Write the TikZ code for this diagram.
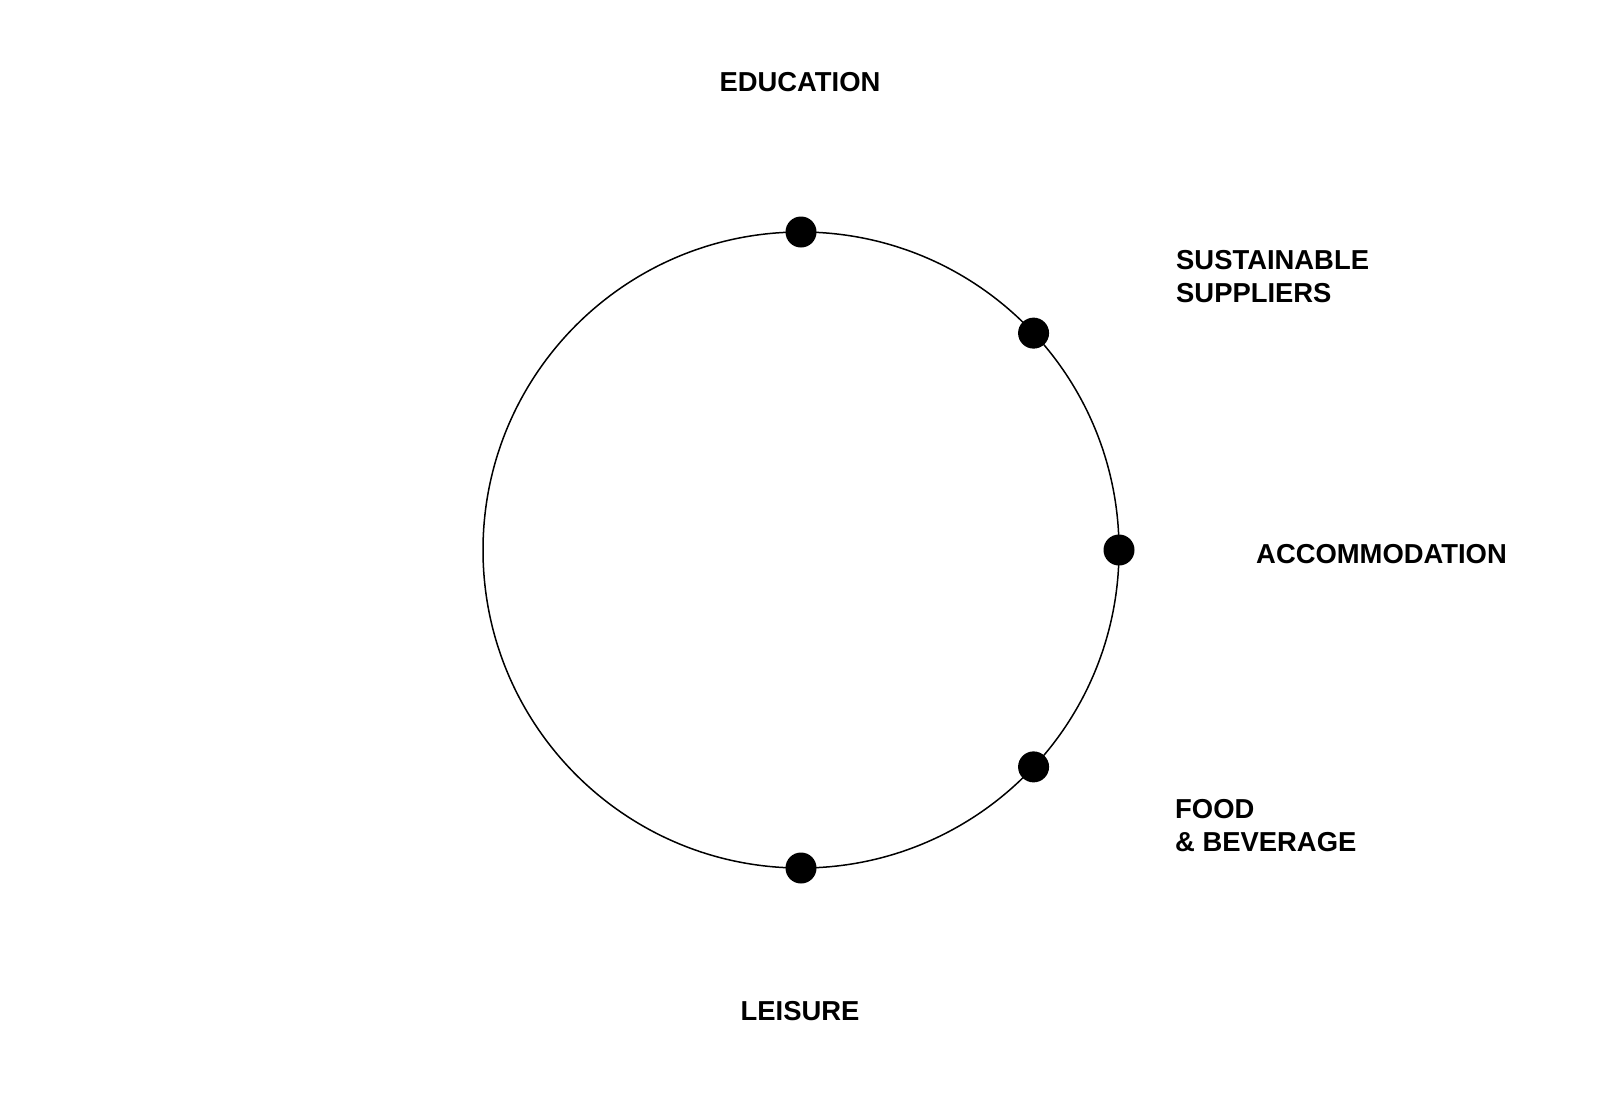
\documentclass[tikz,border=0pt]{standalone}
\usepackage{fontspec}
\setmainfont{Liberation Sans}
\usetikzlibrary{positioning}

\begin{document}
\begin{tikzpicture}[
  x=1pt,y=-1pt,
  font=\bfseries\fontsize{27.4}{33}\selectfont,
  ring/.style={draw,circle,line width=1.5pt,minimum size=636pt,inner sep=0pt,outer sep=0pt},
  spot/.style={circle,fill=black,minimum size=31pt,inner sep=0pt},
  label/.style={inner sep=0pt,align=left},
  every node/.style={align=center}]

  \useasboundingbox (0,0) rectangle (1600,1100);

  % The ring and the points on it
  \node[ring] (ring) at (801,550) {};
  \node[spot] (edu dot) at (ring.90) {};
  \node[spot] (supply dot) at (ring.43) {};
  \node[spot] (accom dot) at (ring.0) {};
  \node[spot] (food dot) at (ring.-43) {};
  \node[spot] (leisure dot) at (ring.-90) {};

  % The labels round the ring
  \node[label] (education) at (800,82) {EDUCATION};
  \node[label,anchor=west] (suppliers) at (1176,277) {SUSTAINABLE\\SUPPLIERS};
  \node[label,anchor=west] (accommodation) at (1256,554) {ACCOMMODATION};
  \node[label,anchor=west] (food) at (1175,826) {FOOD\\\& BEVERAGE};
  \node[label] (leisure) at (800,1011) {LEISURE};
\end{tikzpicture}
\end{document}
